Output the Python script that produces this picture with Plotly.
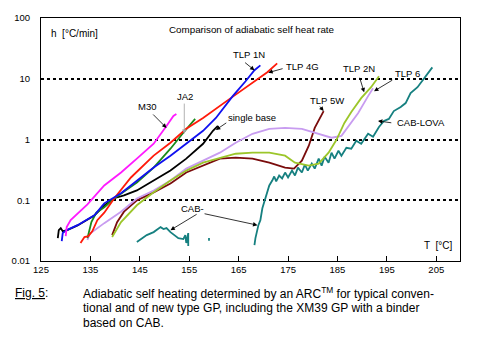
import plotly.graph_objects as go
import math

# Adiabatic self-heat rate h [°C/min] versus temperature T [°C]
m30_T = [130.0, 130.2, 131.0, 132.2, 134.4, 137.8, 141.2, 144.4, 147.8, 150.4, 151.8, 152.4]
m30_h = [0.0257, 0.0361, 0.047, 0.0589, 0.0857, 0.175, 0.286, 0.484, 0.851, 1.67, 2.44, 2.63]

ja2_T = [134.4, 134.8, 135.2, 136.2, 137.8, 139.8, 144.4, 147.8, 151.2, 153.8, 156.2]
ja2_h = [0.0238, 0.0322, 0.0436, 0.0625, 0.0766, 0.107, 0.196, 0.345, 0.705, 1.29, 2.18]

single_T = [128.4, 128.6, 129.0, 129.4, 130.2, 132.4, 135.8, 137.8, 139.8, 141.8, 144.4, 147.8,
            151.2, 154.4, 157.8, 159.8, 160.8]
single_h = [0.0238, 0.0322, 0.0348, 0.031, 0.0318, 0.0385, 0.056, 0.082, 0.108, 0.120, 0.145, 0.211,
            0.308, 0.484, 0.851, 1.39, 1.67]

tlp1n_T = [129.2, 129.4, 130.2, 132.4, 135.8, 137.8, 141.2, 144.4, 147.8, 151.2, 154.4,
           157.8, 160.4, 163.8, 166.4, 168.2, 169.4]
tlp1n_h = [0.0213, 0.0288, 0.0322, 0.0389, 0.0566, 0.0889, 0.130, 0.211, 0.345, 0.542, 0.851,
           1.39, 2.26, 5.18, 9.10, 13.8, 16.6]

tlp4g_T = [133.0, 133.8, 134.6, 135.4, 136.4, 137.8, 139.8, 143.2, 147.8, 151.2, 154.4,
           157.8, 163.4, 168.2, 170.8, 172.8]
tlp4g_h = [0.0198, 0.0248, 0.0257, 0.031, 0.047, 0.0625, 0.107, 0.237, 0.542, 0.883, 1.50,
           2.26, 4.80, 9.10, 12.8, 17.9]

tlp6_T = [134.4, 134.8, 137.8, 141.2, 144.4, 147.8, 151.2, 154.4, 157.8, 161.2, 164.4,
          167.8, 171.2, 174.4, 177.8, 181.2, 183.8, 185.8, 187.2, 189.2, 191.2, 192.2]
tlp6_h = [0.0221, 0.0277, 0.042, 0.0649, 0.107, 0.145, 0.211, 0.332, 0.449, 0.607, 0.883,
          1.24, 1.50, 1.55, 1.50, 1.24, 1.07, 1.15, 1.67, 2.73, 5.18, 7.0]

tlp2n_T = [139.4, 141.2, 144.4, 147.8, 151.2, 154.4, 157.8, 161.2, 164.4, 167.8, 171.2,
           174.4, 176.4, 179.2, 181.2, 183.2, 184.8, 186.4, 187.8, 189.8, 191.8, 193.4]
tlp2n_h = [0.0248, 0.0436, 0.0826, 0.135, 0.211, 0.308, 0.416, 0.502, 0.583, 0.607, 0.607,
           0.542, 0.416, 0.372, 0.401, 0.607, 0.989, 1.87, 2.84, 4.80, 7.26, 11.0]

tlp5w_T = [139.4, 140.4, 141.8, 144.4, 147.8, 151.2, 154.4, 157.8, 161.2, 164.4, 167.8,
           171.2, 174.4, 176.2, 177.8, 179.2, 180.4, 182.2]
tlp5w_h = [0.0267, 0.0436, 0.0649, 0.0995, 0.135, 0.189, 0.286, 0.372, 0.484, 0.502, 0.484,
           0.416, 0.345, 0.332, 0.449, 0.789, 1.55, 2.94]

cab_T = [144.4, 145.2, 146.4, 147.8, 149.2, 149.8, 150.4, 151.2, 151.8, 152.8, 153.8,
         154.2, 154.4, 154.8, 154.8, None, 159.0, 159.0]
cab_h = [0.0205, 0.0230, 0.0267, 0.0299, 0.0361, 0.0336, 0.0348, 0.0299, 0.0277, 0.0238, 0.0230,
         0.0267, 0.0198, 0.0288, 0.0177, None, 0.0215, 0.0240]

lova_T = [168.2, 168.4, 169.0, 169.4, 169.8, 170.4, 170.8, 171.2, 171.8, 172.2, 172.6, 173.2,
          173.8, 174.4, 175.0, 175.8, 176.4, 177.0, 177.8, 178.4, 179.0, 179.8, 180.4, 181.2,
          181.8, 182.4, 183.2, 183.8, 184.4, 185.2, 185.8, 186.8, 187.8, 188.8, 189.8, 191.2,
          192.2, 193.4, 194.4, 195.4, 196.4, 197.8, 198.8, 199.8, 201.2, 201.8, 202.8, 203.8, 204.2]
lova_h = [0.0183, 0.0238, 0.0389, 0.047, 0.0738, 0.107, 0.135, 0.175, 0.211, 0.246, 0.204, 0.255,
          0.228, 0.286, 0.237, 0.308, 0.255, 0.345, 0.286, 0.386, 0.308, 0.401, 0.332, 0.484,
          0.372, 0.521, 0.416, 0.607, 0.484, 0.653, 0.542, 0.731, 0.705, 0.953, 0.851, 1.24,
          1.11, 1.61, 2.02, 2.18, 2.94, 3.42, 3.98, 5.80, 7.26, 8.43, 11.0, 14.3, 15.4]

x_ticks = [125, 135, 145, 155, 165, 175, 185, 195, 205]
y_ticks = [0.01, 0.1, 1, 10, 100]
y_tick_text = ["0.01", "0.1", "1", "10", "100"]

series = [
    ("single base", single_T, single_h, "#000000"),
    ("CAB", cab_T, cab_h, "#168080"),
    ("CAB-LOVA", lova_T, lova_h, "#168080"),
    ("TLP 5W", tlp5w_T, tlp5w_h, "#7a0c0c"),
    ("TLP 6", tlp6_T, tlp6_h, "#c89cf0"),
    ("TLP 2N", tlp2n_T, tlp2n_h, "#9cc62a"),
    ("JA2", ja2_T, ja2_h, "#1a8a1a"),
    ("TLP 4G", tlp4g_T, tlp4g_h, "#ff1a0a"),
    ("TLP 1N", tlp1n_T, tlp1n_h, "#1010f0"),
    ("M30", m30_T, m30_h, "#ff1aff"),
]

fig = go.Figure()
for name, t, h, col in series:
    fig.add_trace(go.Scatter(x=t, y=h, mode="lines", name=name,
                             line=dict(color=col, width=1.8), connectgaps=False))

FONT = "Liberation Sans, Arial, sans-serif"
lg = math.log10

def label(text, x, y, anchor="center", size=9.5):
    fig.add_annotation(x=x, y=lg(y), xref="x", yref="y", text=text, showarrow=False,
                       xanchor=anchor, yanchor="middle",
                       font=dict(family=FONT, size=size, color="black"))

def arrow(x0, y0, x1, y1, color="black"):
    fig.add_annotation(x=x1, y=lg(y1), ax=x0, ay=lg(y0), xref="x", yref="y",
                       axref="x", ayref="y", text="", showarrow=True,
                       arrowhead=2, arrowsize=1.1, arrowwidth=0.8, arrowcolor=color, standoff=0)

label("h  [°C/min]", 126.6, 55.3, anchor="left", size=10)
label("Comparison of adiabatic self heat rate", 150.6, 64.4, anchor="left", size=9.8)
label("T  [°C]", 202.2, 0.0177, anchor="left", size=10)

label("TLP 1N", 167.0, 25.1)
arrow(166.0, 19.3, 168.2, 13.8)
label("TLP 4G", 178.0, 16.0)
arrow(174.2, 14.9, 171.0, 12.6)
label("TLP 2N", 189.4, 14.9)
arrow(189.4, 11.0, 190.4, 6.0)
label("TLP 6", 199.2, 12.3)
arrow(196.4, 9.8, 192.4, 6.25)
label("TLP 5W", 182.8, 4.46)
arrow(181.2, 3.69, 182.2, 2.94)
label("single base", 167.8, 2.26)
arrow(162.8, 1.95, 160.4, 1.44)
label("JA2", 154.2, 5.18)
arrow(154.0, 4.13, 154.0, 1.24, color="#a0a0a0")
label("M30", 146.4, 3.56)
arrow(147.4, 2.73, 150.4, 1.55)
label("CAB-LOVA", 202.0, 1.87)
arrow(196.2, 1.87, 193.2, 2.02)
label("CAB-", 155.6, 0.0733)
arrow(156.8, 0.0607, 151.2, 0.0322)
arrow(157.8, 0.0607, 168.8, 0.0389)

CAP = "Liberation Sans, Arial, sans-serif"
caption = [
    "Adiabatic self heating determined by an ARC<sup>TM</sup> for typical conven-",
    "tional and of new type GP, including the XM39 GP with a binder",
    "based on CAB.",
]
fig.add_annotation(x=-0.066, y=-0.131, xref="paper", yref="paper", text="<u>Fig. 5</u>:",
                   showarrow=False, xanchor="left", yanchor="middle",
                   font=dict(family=CAP, size=12, color="black"))
for i, line in enumerate(caption):
    fig.add_annotation(x=0.0943, y=-0.131 - 0.0612 * i, xref="paper", yref="paper", text=line,
                       showarrow=False, xanchor="left", yanchor="middle",
                       font=dict(family=CAP, size=12, color="black"))

fig.update_xaxes(range=[125, 209.8], tickvals=x_ticks, ticks="inside", ticklen=5,
                 tickcolor="black", showline=True, linecolor="black", linewidth=1,
                 mirror=True, showgrid=False, zeroline=False,
                 tickfont=dict(family=FONT, size=9.5, color="black"))
fig.update_yaxes(type="log", range=[-2, 2], tickvals=y_ticks, ticktext=y_tick_text,
                 ticks="", showline=True, linecolor="black", linewidth=1, mirror=True,
                 showgrid=True, gridcolor="black", gridwidth=1.6, griddash="3px,3px",
                 ticklabelstandoff=8, zeroline=False,
                 tickfont=dict(family=FONT, size=9.5, color="black"))

fig.update_layout(width=483, height=348, margin=dict(l=36, r=23, t=16, b=87),
                  paper_bgcolor="white", plot_bgcolor="white", showlegend=False)

fig.write_html("out.html")
